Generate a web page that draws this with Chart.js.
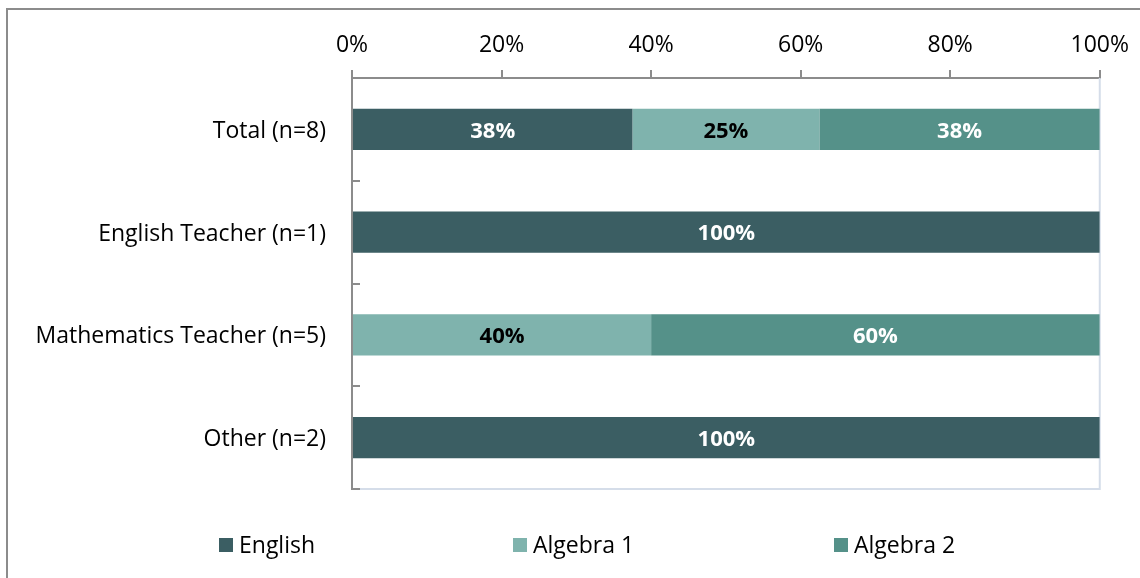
<!DOCTYPE html>
<html>
<head>
<meta charset="utf-8">
<script src="https://cdn.jsdelivr.net/npm/chart.js@4"></script>
<style>
  body { margin: 0; overflow: hidden; background: #fff; }
  #frame { position: absolute; left: 6px; top: 8px; width: 1200px; height: 700px; border: 2px solid #8c8c8c; }
  #wrap { position: absolute; left: 0; top: 0; width: 1140px; height: 578px; }
</style>
</head>
<body>
<div id="frame"></div>
<div id="wrap"><canvas id="myChart" width="1140" height="578"></canvas></div>
<script>
// data
const categories = ['Total (n=8)', 'English Teacher (n=1)', 'Mathematics Teacher (n=5)', 'Other (n=2)'];
const seriesNames = ['English', 'Algebra 1', 'Algebra 2'];
const english = [37.5, 100, 0, 100];
const algebra1 = [25, 0, 40, 0];
const algebra2 = [37.5, 0, 60, 0];
const xTickValues = [0, 20, 40, 60, 80, 100];

const colors = ['#3b5e63', '#7fb3ad', '#559189'];
const labelColors = ['#ffffff', '#000000', '#ffffff'];
const FONT = '"Open Sans"';
const legendX = [219, 513, 834];

// value labels in the middle of each segment
const barLabels = {
  id: 'barLabels',
  afterDatasetsDraw(chart) {
    const ctx = chart.ctx;
    ctx.save();
    ctx.font = 'bold 22px ' + FONT;
    ctx.textAlign = 'center';
    ctx.textBaseline = 'middle';
    chart.data.datasets.forEach((ds, i) => {
      const meta = chart.getDatasetMeta(i);
      meta.data.forEach((bar, j) => {
        const v = ds.data[j];
        if (!v) return;
        ctx.fillStyle = labelColors[i];
        ctx.fillText(Math.round(v) + '%', (bar.x + bar.base) / 2, bar.y + 2);
      });
    });
    ctx.restore();
  }
};

// plot frame, inner ticks on the category axis, and the legend
const extras = {
  id: 'extras',
  beforeDatasetsDraw(chart) {
    const ctx = chart.ctx;
    const a = chart.chartArea;
    ctx.save();
    ctx.strokeStyle = '#d5dde9';
    ctx.lineWidth = 2;
    ctx.beginPath();
    ctx.moveTo(a.right, a.top);
    ctx.lineTo(a.right, a.bottom);
    ctx.lineTo(a.left, a.bottom);
    ctx.stroke();
    ctx.restore();
  },
  afterDraw(chart) {
    const ctx = chart.ctx;
    const a = chart.chartArea;
    ctx.save();
    ctx.strokeStyle = '#8c8c8c';
    ctx.lineWidth = 2;
    const step = (a.bottom - a.top) / categories.length;
    for (let i = 1; i <= categories.length; i++) {
      const py = Math.round(a.top + step * i);
      ctx.beginPath();
      ctx.moveTo(a.left, py);
      ctx.lineTo(a.left + 8, py);
      ctx.stroke();
    }
    // legend
    ctx.font = '23px ' + FONT;
    ctx.textBaseline = 'middle';
    ctx.textAlign = 'left';
    const ly = 545;
    chart.data.datasets.forEach((ds, i) => {
      const x = legendX[i];
      ctx.fillStyle = ds.backgroundColor;
      ctx.fillRect(x, ly - 7, 14, 14);
      ctx.fillStyle = '#000';
      ctx.fillText(ds.label, x + 20, ly + 1);
    });
    ctx.restore();
  }
};

const ctx = document.getElementById('myChart').getContext('2d');
new Chart(ctx, {
  type: 'bar',
  data: {
    labels: categories,
    datasets: [
      { label: seriesNames[0], data: english, backgroundColor: colors[0] },
      { label: seriesNames[1], data: algebra1, backgroundColor: colors[1] },
      { label: seriesNames[2], data: algebra2, backgroundColor: colors[2] }
    ]
  },
  options: {
    indexAxis: 'y',
    responsive: false,
    animation: false,
    devicePixelRatio: 1,
    barPercentage: 0.8,
    categoryPercentage: 0.5,
    layout: { padding: { left: 0, top: 0, right: 38, bottom: 89 } },
    plugins: {
      legend: { display: false },
      tooltip: { enabled: false }
    },
    scales: {
      x: {
        position: 'top',
        stacked: true,
        min: 0,
        max: 100,
        afterFit: (scale) => { scale.height = 78; },
        afterBuildTicks: (scale) => { scale.ticks = xTickValues.map(v => ({ value: v })); },
        ticks: {
          callback: (v) => v + '%',
          color: '#000',
          font: { family: FONT, size: 23 },
          padding: 11
        },
        grid: {
          drawOnChartArea: false,
          drawTicks: true,
          tickLength: 8,
          color: '#8c8c8c',
          lineWidth: 2
        },
        border: { display: true, color: '#8c8c8c', width: 2 }
      },
      y: {
        stacked: true,
        afterFit: (scale) => { scale.width = 352; },
        ticks: {
          color: '#000',
          font: { family: FONT, size: 23 },
          padding: 26,
          labelOffset: 2
        },
        grid: { display: false, drawTicks: false },
        border: { display: true, color: '#8c8c8c', width: 2 }
      }
    }
  },
  plugins: [barLabels, extras]
});
</script>
</body>
</html>
